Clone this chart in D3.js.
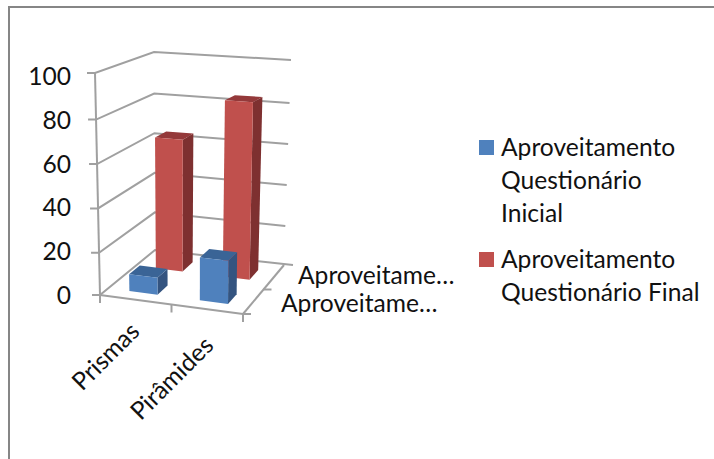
<!DOCTYPE html>
<html><head><meta charset="utf-8">
<script src="https://cdn.jsdelivr.net/npm/d3@7/dist/d3.min.js"></script>
<style>
html,body{margin:0;padding:0;background:#fff}
svg{display:block}
text{font-family:Lato,"Open Sans",sans-serif;fill:#111}
</style></head><body>
<svg id="chart" width="714" height="459"></svg>
<script>
const categories = ["Prismas", "Pirâmides"];
const seriesNames = ["Aproveitamento Questionário Inicial", "Aproveitamento Questionário Final"];
const depthLabels = ["Aproveitame…", "Aproveitame…"];
const inicial = [8, 20];
const final = [64, 84];
const valueTicks = [0, 20, 40, 60, 80, 100];
const legendLines = [["Aproveitamento", "Questionário", "Inicial"], ["Aproveitamento", "Questionário Final"]];
const colors = [
  {front: "#4f81bd", top: "#3a6496", side: "#345480"},
  {front: "#c0504d", top: "#94393a", side: "#7e3030"}
];

const svg = d3.select("#chart");
const width = 714, height = 459;
const gridColor = "#a0a0a0";
const gridWidth = 2;
const fontSize = 24.6;

// Chart frame: only the top and left edges fall inside the page.
svg.append("path").attr("d", `M9,${height}V7H${width}`)
  .attr("fill", "none").attr("stroke", "#868686").attr("stroke-width", 2);

// Eight corners of the projected plot box: [category, depth, height] -> screen.
const corners = {
  "000": [100, 295], "100": [243, 314], "010": [155, 250], "110": [284, 265],
  "001": [95, 73],   "101": [245, 82],  "011": [154, 52],  "111": [291, 60]
};
const u = d3.scaleBand().domain(categories).range([0, 1]).paddingInner(0.6).paddingOuter(0.3);
const v = d3.scaleBand().domain([0, 1]).range([0, 1]).paddingInner(0.6).paddingOuter(0.3);
// Height axis is slightly foreshortened towards the floor.
const h = d3.scaleLinear().domain(valueTicks).range([0, 0.19, 0.39, 0.59, 0.79, 1]);
const labelY = d3.scaleLinear().domain([0, 100]).range([295, 76]);

// Trilinear placement inside the box.
function project(a, b, c) {
  const out = [0, 0];
  for (const i of [0, 1]) for (const j of [0, 1]) for (const k of [0, 1]) {
    const w = (i ? a : 1 - a) * (j ? b : 1 - b) * (k ? c : 1 - c);
    const p = corners[`${i}${j}${k}`];
    out[0] += w * p[0];
    out[1] += w * p[1];
  }
  return out;
}
const poly = d3.line();

function seg(g, p, q) {
  g.append("line").attr("x1", p[0]).attr("y1", p[1]).attr("x2", q[0]).attr("y2", q[1])
    .attr("stroke", gridColor).attr("stroke-width", gridWidth);
}

// Walls: each gridline runs along the side wall and then the back wall.
const grid = svg.append("g");
valueTicks.forEach(t => {
  const c = h(t);
  const front = project(0, 0, c), back = project(0, 1, c), right = project(1, 1, c);
  const end = t > 0 ? right : [right[0] + 9, right[1]];
  grid.append("path").attr("d", poly([[front[0] - 8, front[1]], front, back, end]))
    .attr("fill", "none").attr("stroke", gridColor).attr("stroke-width", gridWidth);
});
seg(grid, project(0, 0, 0), project(0, 0, 1));

// Floor edges and their tick marks.
seg(grid, project(0, 0, 0), project(1, 0, 0));
seg(grid, project(1, 0, 0), project(1, 1, 0));
[0, 0.5, 1].forEach(t => {
  const p = project(t, 0, 0);
  seg(grid, p, [p[0], p[1] + 8]);
});
[0, 0.5].forEach(t => {
  const p = project(1, t, 0);
  seg(grid, p, [p[0] + 8, p[1]]);
});

// Bars, painted from the back row forwards.
const rows = [final, inicial];
rows.forEach(values => {
  const s = values === inicial ? 0 : 1;
  categories.forEach((cat, ci) => {
    const a0 = u(cat), a1 = a0 + u.bandwidth();
    const b0 = v(s), b1 = b0 + v.bandwidth();
    const c = h(values[ci]);
    const g = svg.append("g");
    g.append("path").attr("fill", colors[s].side)
      .attr("d", poly([project(a1, b0, 0), project(a1, b1, 0), project(a1, b1, c), project(a1, b0, c)]) + "Z");
    g.append("path").attr("fill", colors[s].top)
      .attr("d", poly([project(a0, b0, c), project(a1, b0, c), project(a1, b1, c), project(a0, b1, c)]) + "Z");
    g.append("path").attr("fill", colors[s].front)
      .attr("d", poly([project(a0, b0, 0), project(a1, b0, 0), project(a1, b0, c), project(a0, b0, c)]) + "Z");
  });
});

// Value axis labels.
svg.append("g").selectAll("text").data(valueTicks).join("text")
  .attr("x", 71).attr("y", d => labelY(d) + 9)
  .attr("text-anchor", "end").attr("font-size", fontSize).text(d => d);

// Category labels, rotated along the floor edge.
const catAnchor = [[141, 333], [215, 347]];
svg.append("g").selectAll("text").data(categories).join("text")
  .attr("transform", (d, i) => `translate(${catAnchor[i][0]},${catAnchor[i][1]}) rotate(-45)`)
  .attr("text-anchor", "end").attr("font-size", fontSize).text(d => d);

// Series labels on the depth axis.
const depthAnchor = [[281, 312], [298, 284]];
svg.append("g").selectAll("text").data(depthLabels).join("text")
  .attr("x", (d, i) => depthAnchor[i][0]).attr("y", (d, i) => depthAnchor[i][1])
  .attr("font-size", fontSize).text(d => d);

// Legend.
const legendTop = [140, 252];
const legend = svg.append("g");
legendLines.forEach((lines, i) => {
  legend.append("rect").attr("x", 479).attr("y", legendTop[i]).attr("width", 15).attr("height", 15)
    .attr("fill", colors[i].front);
  lines.forEach((line, k) => {
    legend.append("text").attr("x", 501).attr("y", legendTop[i] + 16 + k * 33)
      .attr("font-size", fontSize).text(line);
  });
});
</script>
</body></html>
